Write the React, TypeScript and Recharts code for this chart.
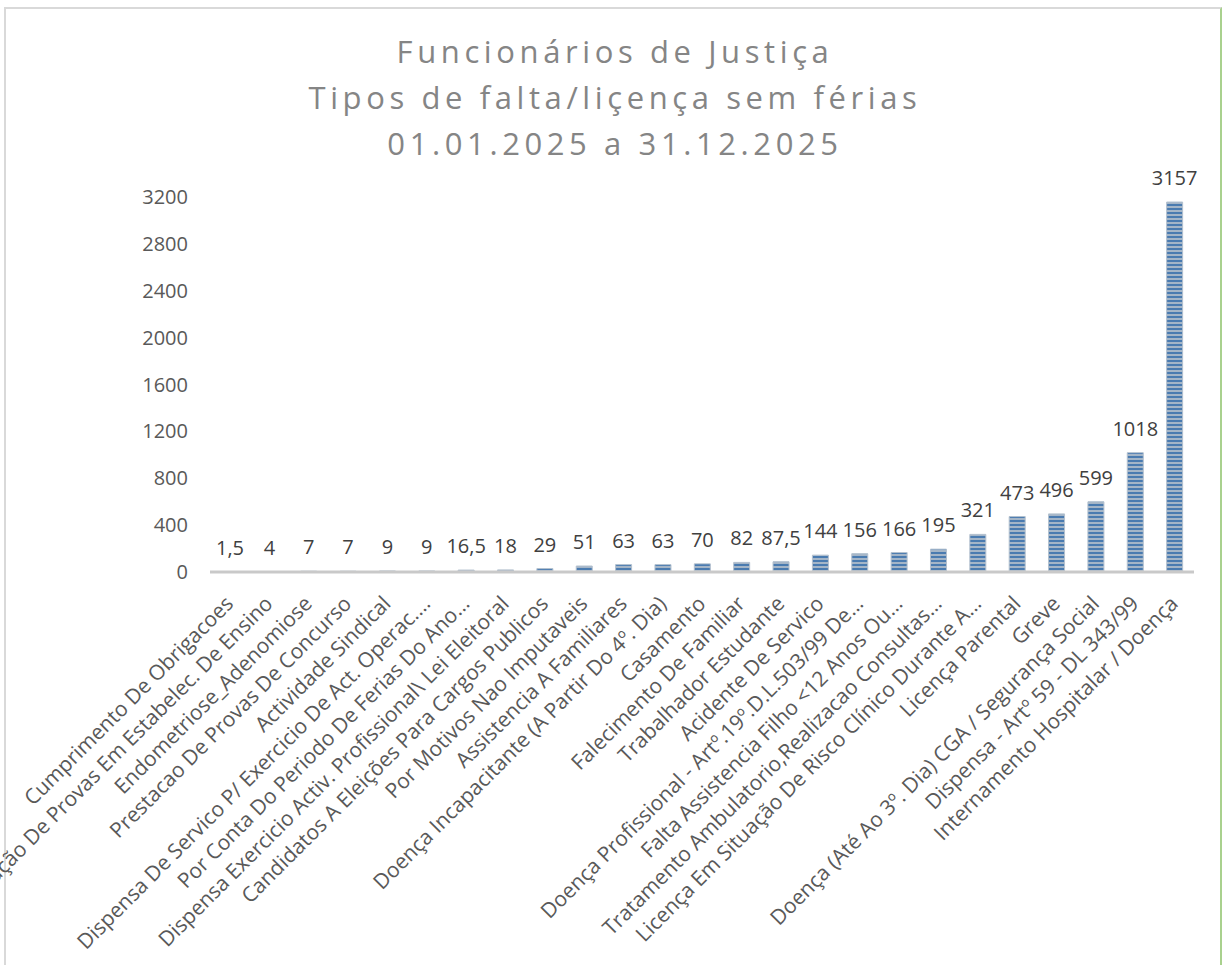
import React from 'react';
import { BarChart, Bar, XAxis, YAxis, LabelList } from 'recharts';

const categories: string[] = [
  'Cumprimento De Obrigacoes',
  'Realização De Provas Em Estabelec. De Ensino',
  'Endometriose_Adenomiose',
  'Prestacao De Provas De Concurso',
  'Actividade Sindical',
  'Dispensa De Servico P/ Exercicio De Act. Operac.…',
  'Por Conta Do Periodo De Ferias Do Ano…',
  'Dispensa Exercicio Activ. Profissional\\ Lei Eleitoral',
  'Candidatos A Eleições Para Cargos Publicos',
  'Por Motivos Nao Imputaveis',
  'Assistencia A Familiares',
  'Doença Incapacitante (A Partir Do 4º. Dia)',
  'Casamento',
  'Falecimento De Familiar',
  'Trabalhador Estudante',
  'Acidente De Servico',
  'Doença Profissional - Artº.19º.D.L.503/99 De…',
  'Falta Assistencia Filho <12 Anos Ou…',
  'Tratamento Ambulatorio,Realizacao Consultas…',
  'Licença Em Situação De Risco Clínico Durante A…',
  'Licença Parental',
  'Greve',
  'Doença  (Até Ao 3º. Dia) CGA / Segurança Social',
  'Dispensa - Artº 59 - DL 343/99',
  'Internamento Hospitalar / Doença',
];

const values: number[] = [
  1.5, 4, 7, 7, 9, 9, 16.5, 18, 29, 51, 63, 63, 70, 82, 87.5,
  144, 156, 166, 195, 321, 473, 496, 599, 1018, 3157,
];

const yTicks: number[] = [0, 400, 800, 1200, 1600, 2000, 2400, 2800, 3200];

const titleLines: string[] = [
  'Funcionários de Justiça',
  'Tipos de falta/liçença sem férias',
  '01.01.2025 a 31.12.2025',
];

const data = categories.map((name, i) => ({ name, value: values[i] }));

const FONT = '"Open Sans", "Noto Sans", sans-serif';
const fmt = (v: number) => String(v).replace('.', ',');

function XTick(props: any) {
  const { x, y, payload } = props;
  const ax = x + 5;
  const ay = y + 33;
  return (
    <text
      x={ax}
      y={ay}
      transform={`rotate(-45 ${ax} ${ay})`}
      textAnchor="end"
      fill="#595959"
      fontSize={21}
      fontFamily={FONT}
    >
      {payload.value}
    </text>
  );
}

function TopLabel(props: any) {
  const { x, y, width, value } = props;
  return (
    <text
      x={x + width / 2}
      y={y - 17}
      textAnchor="middle"
      fill="#404040"
      fontSize={20}
      fontFamily={FONT}
    >
      {fmt(value)}
    </text>
  );
}

export default function App() {
  return (
    <div style={{ position: 'absolute', left: 0, top: 0, width: 1225, height: 965, background: '#fff', overflow: 'hidden' }}>
      <style>{`body{margin:0;overflow:hidden;background:#fff}`}</style>
      <svg width={0} height={0} style={{ position: 'absolute' }}>
        <defs>
          <pattern id="stripes" patternUnits="userSpaceOnUse" width={4} height={4}>
            <rect x={0} y={0} width={4} height={2} fill="#4a7bb0" />
            <rect x={0} y={2} width={4} height={2} fill="#a4b5c7" />
          </pattern>
        </defs>
      </svg>
      <div
        style={{
          position: 'absolute',
          left: 4,
          top: 7,
          width: 1218,
          height: 1000,
          borderLeft: '2px solid #d9d9d9',
          borderTop: '2px solid #d9d9d9',
          borderRight: '2px solid #a9d18e',
          boxSizing: 'border-box',
        }}
      />
      <svg width={1225} height={180} style={{ position: 'absolute', left: 0, top: 0 }}>
        {titleLines.map((t, i) => (
          <text
            key={i}
            x={615}
            y={63 + i * 46}
            textAnchor="middle"
            fill="#858585"
            fontSize={31}
            fontFamily={FONT}
            style={{ letterSpacing: 4.6 }}
          >
            {t}
          </text>
        ))}
      </svg>
      <div style={{ position: 'absolute', left: 0, top: 0 }}>
        <BarChart
          width={1225}
          height={965}
          data={data}
          margin={{ top: 197, right: 31, left: 0, bottom: 0 }}
        >
          <XAxis
            dataKey="name"
            interval={0}
            height={393}
            tickLine={false}
            tickSize={0}
            tickMargin={0}
            axisLine={{ stroke: '#c9c9c9', strokeWidth: 3 }}
            tick={<XTick />}
          />
          <YAxis
            width={210}
            domain={[0, 3200]}
            ticks={yTicks}
            axisLine={false}
            tickLine={false}
            tickSize={0}
            tickMargin={22}
            tick={{ fill: '#595959', fontSize: 20, fontFamily: FONT }}
          />
          <Bar
            dataKey="value"
            fill="url(#stripes)"
            stroke="#b3c0ce"
            strokeWidth={1}
            barSize={16}
            isAnimationActive={false}
          >
            <LabelList dataKey="value" content={<TopLabel />} />
          </Bar>
        </BarChart>
      </div>
    </div>
  );
}
